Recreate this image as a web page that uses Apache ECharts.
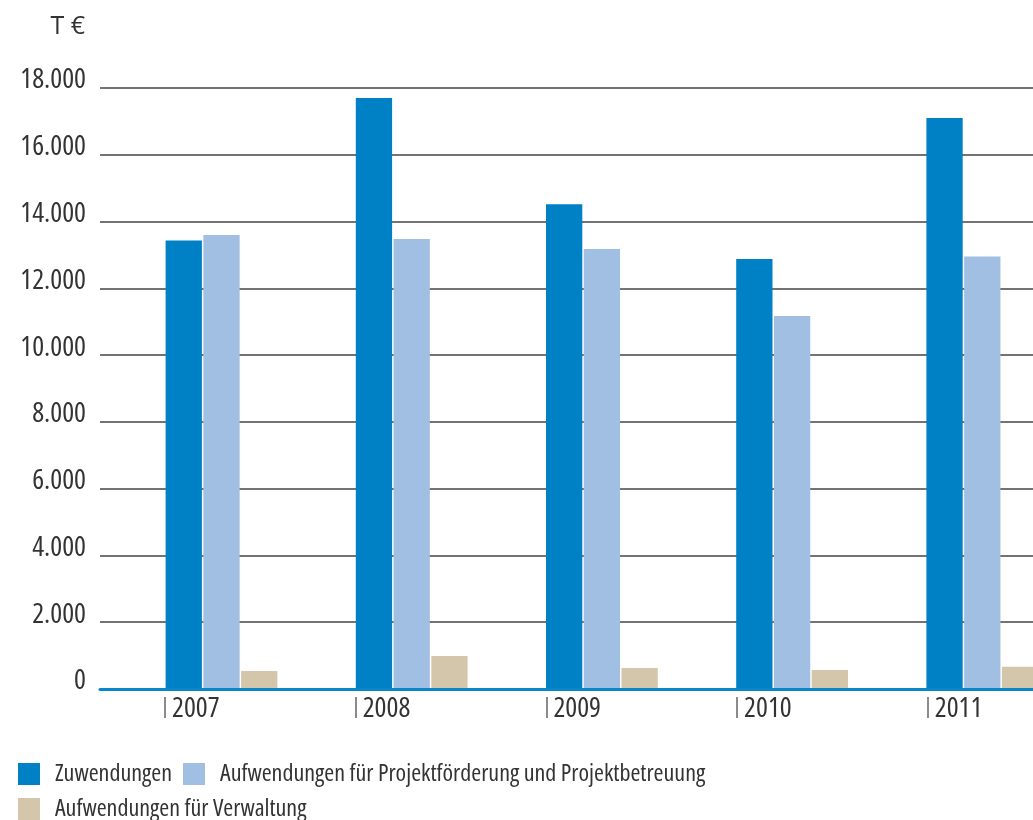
<!DOCTYPE html>
<html><head><meta charset="utf-8">
<script src="https://cdn.jsdelivr.net/npm/echarts@6/dist/echarts.min.js"></script>
<style>html,body{margin:0;padding:0;background:#fff}#c{width:1033px;height:820px}</style>
</head><body><div id="c"></div>
<script>
// ---- data ----
const years = ['2007', '2008', '2009', '2010', '2011'];
const zuwendungen = [13430, 17700, 14520, 12880, 17100];
const projektfoerderung = [13600, 13480, 13180, 11170, 12950];
const verwaltung = [540, 990, 630, 570, 670];
const seriesNames = ['Zuwendungen', 'Aufwendungen für Projektförderung und Projektbetreuung', 'Aufwendungen für Verwaltung'];
const unitLabel = 'T €';
const yMin = 0, yMax = 18000, yStep = 2000;

// ---- styling ----
const FONT = "'Open Sans', 'Liberation Sans', sans-serif";
const STRETCH = 'condensed';   // goes into the canvas font shorthand before the size
const colors = ['#0081c6', '#a1bfe3', '#d4c6aa'];
const fmt = v => String(v).replace(/\B(?=(\d{3})+(?!\d))/g, '.');
const txt = (size, extra) => Object.assign({fontSize: size, fontFamily: FONT, fontStyle: 'normal', fontWeight: STRETCH, color: '#333'}, extra || {});

const chart = echarts.init(document.getElementById('c'), null, {renderer: 'canvas'});
const option = {
  backgroundColor: '#fff',
  animation: false,
  textStyle: {fontFamily: FONT},
  graphic: [{
    type: 'text', x: 85, y: 27,
    style: {text: unitLabel, font: 'normal normal 25px ' + FONT, fill: '#333', align: 'right', verticalAlign: 'middle'}
  }],
  legend: {
    left: 13, top: 757, width: 725,
    icon: 'rect', itemWidth: 22, itemHeight: 22, itemGap: 11,
    selectedMode: false,
    textStyle: txt(24, {padding: [0, 0, 0, 10], lineHeight: 24}),
    data: seriesNames
  },
  grid: [
    {left: 100, right: 0, top: 88, bottom: 131, outerBoundsMode: 'none'},
    {left: 126.4, width: 951, top: 88, bottom: 131, outerBoundsMode: 'none'},
    {left: 165, width: 953.5, top: 88, bottom: 123, outerBoundsMode: 'none'}
  ],
  xAxis: [
    {gridIndex: 0, type: 'category', data: [''], axisTick: {show: false}, axisLabel: {show: false},
     axisLine: {show: true, lineStyle: {color: '#0a86c8', width: 3}}, z: 5},
    {gridIndex: 1, type: 'category', data: years, axisLine: {show: false}, axisTick: {show: false}, axisLabel: {show: false}},
    {gridIndex: 2, type: 'category', data: years.concat(['']), boundaryGap: false,
     axisLine: {show: false},
     axisTick: {show: true, interval: 0, length: 21, lineStyle: {color: '#666', width: 1.5}},
     axisLabel: txt(28, {show: true, interval: 0, align: 'left', margin: 0, padding: [0, 0, 0, 7], lineHeight: 24})}
  ],
  yAxis: [
    {gridIndex: 0, type: 'value', min: yMin, max: yMax, interval: yStep,
     axisLine: {show: false}, axisTick: {show: false},
     axisLabel: txt(28, {margin: 14, formatter: fmt, verticalAlign: 'bottom', lineHeight: 15}),
     splitLine: {show: true, lineStyle: {color: '#444', width: 1.5}}},
    {gridIndex: 1, type: 'value', min: yMin, max: yMax, interval: yStep, show: false, splitLine: {show: false}},
    {gridIndex: 2, type: 'value', min: yMin, max: yMax, interval: yStep, show: false, splitLine: {show: false}}
  ],
  series: [zuwendungen, projektfoerderung, verwaltung].map((d, i) => ({
    name: seriesNames[i], type: 'bar', xAxisIndex: 1, yAxisIndex: 1,
    data: d, barWidth: 36.3, barGap: '4%',
    itemStyle: {color: colors[i]}, z: 3
  }))
};
chart.setOption(option);
</script></body></html>
